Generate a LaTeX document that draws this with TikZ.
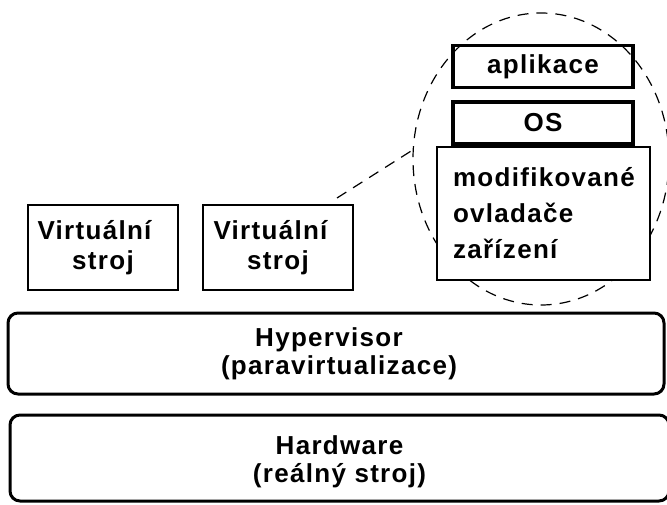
\documentclass[tikz,border=0pt]{standalone}
\usepackage{fontspec}
\setmainfont{Liberation Sans}[LetterSpace=5]
\usetikzlibrary{shapes.geometric}
\begin{document}
\begin{tikzpicture}[x=1pt,y=-1pt,
  lbl/.style={font=\bfseries\fontsize{26}{30}\selectfont, align=center},
  vmbox/.style={draw, line width=2.5pt, minimum width=150pt, minimum height=85pt, inner sep=0pt, lbl},
  stackbox/.style={draw, line width=3.5pt, minimum width=180pt, minimum height=42pt, inner sep=0pt, lbl},
  layerbox/.style={draw, line width=3pt, rounded corners=10pt, inner sep=0pt, lbl,
                   font=\bfseries\fontsize{26}{28}\selectfont},
  dashline/.style={line width=1.2pt, dash pattern=on 11pt off 8pt}
]
\useasboundingbox (0,0) rectangle (667,505);

% zoomed detail of one virtual machine
\node[draw, dashline, ellipse, minimum width=256pt, minimum height=292pt] (detail) at (541,159) {};

\node[stackbox] (app) at (543,66.5) {aplikace};
\node[stackbox] (os) at (543,123) {OS};
\node[draw, fill=white, line width=1.5pt, minimum width=213pt, minimum height=133pt,
      text width=181pt, inner xsep=16pt, inner ysep=0pt, lbl, align=left,
      font=\bfseries\fontsize{26}{36}\selectfont] (drv) at (543.5,213.5)
  {modifikované\\ovladače\\zařízení};

% guest machines
\node[vmbox] (vm1) at (103,247.5) {Virtuální\kern17pt\\stroj};
\node[vmbox] (vm2) at (278,247.5) {Virtuální\kern15pt\\stroj};

% layers
\node[layerbox, minimum width=656pt, minimum height=81pt] (hyp) at (336,353.5)
  {Hypervisor\kern14pt\\(paravirtualizace)\kern-6pt};
\node[layerbox, minimum width=659pt, minimum height=86pt] (hw) at (339.5,458)
  {\rule{0pt}{27pt}Hardware\\(reálný stroj)};

% link from a guest to its detail
\coordinate (tail) at (337,198);
\draw[dashline] (tail) -- (detail.176);
\end{tikzpicture}
\end{document}
